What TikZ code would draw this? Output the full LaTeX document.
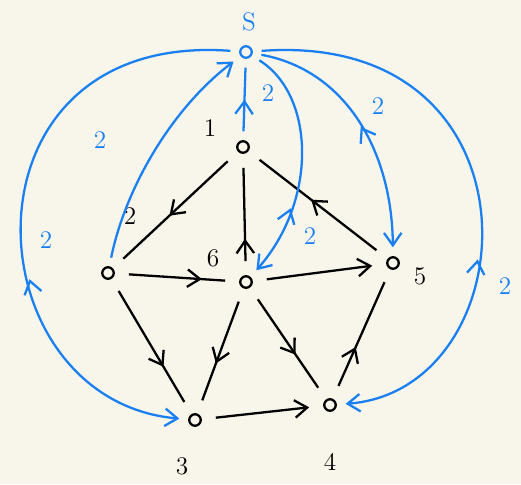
\documentclass[tikz,border=0pt]{standalone}
\usepackage{tikz}
\usetikzlibrary{arrows.meta, decorations.markings}
\definecolor{pen}{HTML}{1A80F2}
\definecolor{paper}{HTML}{F8F5EA}

\begin{document}
\begin{tikzpicture}[x=0.02cm, y=-0.02cm,
    vert/.style={circle, draw, line width=1.3pt, inner sep=0pt, minimum size=2.3mm},
    num/.style={font=\Large},
    weight/.style={font=\Large, text=pen},
    link/.style={line width=1.3pt, shorten <=8pt, shorten >=8pt},
    flow/.style={line width=1.3pt, draw=pen, shorten <=5pt, shorten >=5pt},
    head/.style={-{Straight Barb[length=2.5mm, width=3.5mm]}},
    midtip/.style={postaction=decorate, decoration={markings,
        mark=at position #1 with {\arrow{Straight Barb[length=2.5mm, width=3.5mm]}}}},
    midback/.style={postaction=decorate, decoration={markings,
        mark=at position #1 with {\arrowreversed{Straight Barb[length=2.5mm, width=3.5mm]}}}}]
    \fill[paper] (0,0) rectangle (521,484);
    \useasboundingbox (0,0) rectangle (521,484);
    \node[vert, draw=pen] (s) at (246,52) {};
    \node[vert] (v1) at (243,147) {};
    \node[vert] (v2) at (108,273) {};
    \node[vert] (v6) at (246,282) {};
    \node[vert] (v5) at (393,263) {};
    \node[vert] (v3) at (195,420) {};
    \node[vert] (v4) at (330,405) {};
    \node[num, text=pen] (ls) at (249,22) {S};
    \node[num] (l1) at (210,128) {1};
    \node[num] (l2) at (130,216) {2};
    \node[num] (l6) at (213,258) {6};
    \node[num] (l5) at (420,276) {5};
    \node[num] (l3) at (182,466) {3};
    \node[num] (l4) at (330,462) {4};
    \draw[link, midtip=0.55] (v1) -- (v2);
    \draw[link, midtip=0.3] (v6) -- (v1);
    \draw[link, midtip=0.55] (v5) -- (v1);
    \draw[link, midtip=0.7] (v2) -- (v6);
    \draw[link, head] (v6) -- (v5);
    \draw[link, midtip=0.65] (v2) -- (v3);
    \draw[link, midtip=0.6] (v6) -- (v3);
    \draw[link, midtip=0.6] (v6) -- (v4);
    \draw[link, midtip=0.4] (v4) -- (v5);
    \draw[link, head] (v3) -- (v4);
    \draw[flow, midback=0.5] (s) -- (v1);
    \draw[flow, head] (v2) .. controls (125,190) and (170,110) .. (s);
    \draw[flow, head, midback=0.68] (s) .. controls (315,95) and (318,200) .. (v6);
    \draw[flow, head, midback=0.5] (s) .. controls (345,70) and (392,150) .. (v5);
    \draw[flow, head, midback=0.62] (s) .. controls (-50,30) and (-30,400) .. (v3);
    \draw[flow, head, midback=0.62] (s) .. controls (550,30) and (530,390) .. (v4);
    \node[weight] (w1) at (268,93) {2};
    \node[weight] (w2) at (100,140) {2};
    \node[weight] (w5) at (378,106) {2};
    \node[weight] (w6) at (310,236) {2};
    \node[weight] (w3) at (46,240) {2};
    \node[weight] (w4) at (505,286) {2};
\end{tikzpicture}
\end{document}
